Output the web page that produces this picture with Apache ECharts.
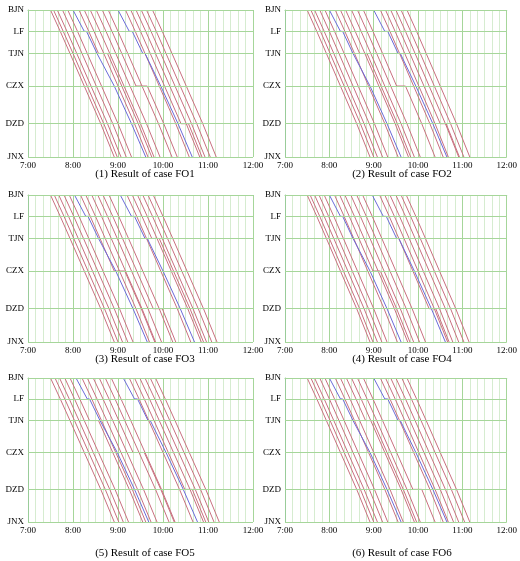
<!DOCTYPE html>
<html><head><meta charset="utf-8">
<script src="https://cdn.jsdelivr.net/npm/echarts@6/dist/echarts.min.js"></script>
<style>html,body{margin:0;background:#fff}#c{width:520px;height:561px}</style>
</head><body><div id="c"></div>
<script>
// stations and their distance (km) from BJN
const stations = ['BJN', 'LF', 'TJN', 'CZX', 'DZD', 'JNX'];
const stationKm = [0, 59, 120, 210, 314, 406];
const hourLabels = ['7:00', '8:00', '9:00', '10:00', '11:00', '12:00'];
const captions = ['(1) Result of case FO1', '(2) Result of case FO2', '(3) Result of case FO3',
  '(4) Result of case FO4', '(5) Result of case FO5', '(6) Result of case FO6'];

// running minutes per section
const redRun = [13, 13, 19, 22, 18];
const blueRun = [15, 14, 21, 23, 19];

// departures from BJN, per case
const redDeps = [
  ['7:30','7:34','7:39','7:46','7:53','8:08','8:15','8:23','8:31','8:39','8:47','9:10','9:17','9:24','9:31','9:38','9:46'],
  ['7:30','7:35','7:40','7:47','7:54','8:08','8:15','8:22','8:30','8:38','8:46','9:09','9:16','9:23','9:30','9:37','9:45'],
  ['7:30','7:35','7:41','7:48','7:55','8:10','8:17','8:25','8:33','8:40','8:48','9:12','9:19','9:26','9:33','9:40','9:47'],
  ['7:30','7:34','7:40','7:46','7:53','8:07','8:14','8:21','8:29','8:37','8:45','9:08','9:15','9:22','9:30','9:37','9:44'],
  ['7:30','7:36','7:42','7:49','7:56','8:12','8:19','8:27','8:35','8:43','8:51','9:15','9:22','9:29','9:36','9:43','9:50'],
  ['7:30','7:35','7:40','7:47','7:54','8:08','8:15','8:23','8:30','8:38','8:46','9:09','9:16','9:23','9:30','9:38','9:45']
];
const blueDeps = [
  ['8:00', '9:00'], ['8:00', '9:00'], ['8:02', '9:03'], ['8:00', '8:58'], ['8:04', '9:07'], ['8:00', '9:00']
];
// dwells: [train index (blue = 100+), station index, minutes]
const dwells = [
  [[100,1,3],[100,2,2],[101,1,4],[101,2,3],[5,2,12],[9,3,15],[12,4,10]],
  [[100,1,3],[100,2,2],[101,1,4],[101,2,3],[6,2,10],[10,3,12],[13,4,8]],
  [[100,1,3],[100,2,2],[101,1,4],[101,2,3],[5,3,14],[9,4,12],[12,2,10]],
  [[100,1,3],[100,2,2],[101,1,4],[101,2,3],[6,3,10],[11,4,9]],
  [[100,1,3],[100,2,2],[101,1,4],[101,2,3],[4,2,12],[8,3,15],[12,4,10]],
  [[100,1,3],[100,2,2],[101,1,4],[101,2,3],[7,2,10],[10,4,12]]
];

const toMin = s => { const [h, m] = s.split(':').map(Number); return h * 60 + m; };

function trainPath(dep, run, stops) {
  let t = toMin(dep);
  const pts = [[t, stationKm[0]]];
  for (let i = 0; i < run.length; i++) {
    t += run[i];
    pts.push([t, stationKm[i + 1]]);
    const d = stops[i + 1];
    if (d) { t += d; pts.push([t, stationKm[i + 1]]); }
  }
  return pts;
}

const font = 'Liberation Serif';
const grids = [], xAxes = [], yAxes = [], series = [], titles = [];
const tops = [10, 195, 378], heights = [147, 147, 144], capTops = [164, 349, 543];

for (let p = 0; p < 6; p++) {
  const row = Math.floor(p / 2), col = p % 2;
  const left = col ? 285 : 28;
  grids.push({ left, top: tops[row], width: 225, height: heights[row] });
  titles.push({ text: captions[p], left: left + 112, top: capTops[row], textAlign: 'center',
    textStyle: { fontFamily: font, fontSize: 11, fontWeight: 'normal', color: '#000' } });
  xAxes.push({ gridIndex: p, type: 'value', min: 420, max: 720, interval: 60,
    axisLine: { lineStyle: { color: '#9c9' } }, axisTick: { show: false },
    axisLabel: { fontFamily: font, fontSize: 9, color: '#000', margin: 4,
      formatter: v => hourLabels[(v - 420) / 60] },
    splitLine: { show: true, lineStyle: { color: '#a6d69a', width: 1 } },
    minorTick: { show: false, splitNumber: 6 },
    minorSplitLine: { show: true, lineStyle: { color: '#d6ecd0', width: 1 } } });
  yAxes.push({ gridIndex: p, type: 'value', inverse: true, min: 0, max: 406,
    axisLine: { lineStyle: { color: '#9c9' } }, axisTick: { show: false },
    axisLabel: { show: false }, splitLine: { show: false } });
  // station lines
  series.push({ type: 'line', xAxisIndex: p, yAxisIndex: p, data: [], silent: true,
    markLine: { symbol: 'none', silent: true,
      lineStyle: { color: '#a6d69a', type: 'solid', width: 1 },
      label: { position: 'start', formatter: '{b}', fontFamily: font, fontSize: 9, color: '#000', distance: 4 },
      data: stations.map((s, i) => ({ name: s, yAxis: stationKm[i] })) } });
  const stopMap = {};
  dwells[p].forEach(([tr, st, m]) => { (stopMap[tr] = stopMap[tr] || {})[st] = m; });
  redDeps[p].forEach((d, i) => series.push({ type: 'line', xAxisIndex: p, yAxisIndex: p,
    data: trainPath(d, redRun, stopMap[i] || {}), showSymbol: false, silent: true,
    lineStyle: { color: '#c8707f', width: 1 } }));
  blueDeps[p].forEach((d, i) => series.push({ type: 'line', xAxisIndex: p, yAxisIndex: p,
    data: trainPath(d, blueRun, stopMap[100 + i] || {}), showSymbol: false, silent: true, z: 3,
    lineStyle: { color: '#6a6ad8', width: 1 } }));
}

const chart = echarts.init(document.getElementById('c'));
chart.setOption({ animation: false, title: titles, grid: grids, xAxis: xAxes, yAxis: yAxes, series });
</script></body></html>
